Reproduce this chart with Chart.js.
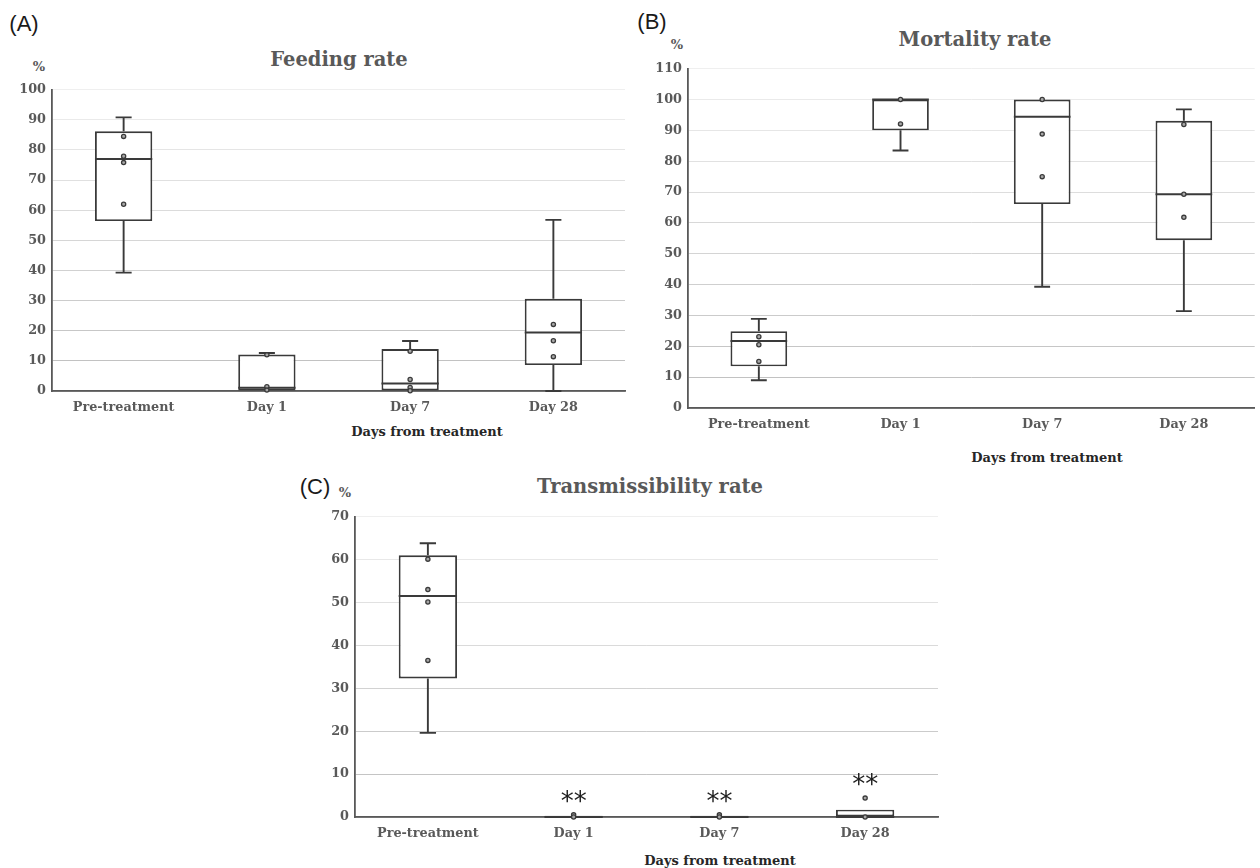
<!DOCTYPE html>
<html><head><meta charset="utf-8">
<script src="https://cdn.jsdelivr.net/npm/chart.js@4.4.1/dist/chart.umd.min.js"></script>
<style>
html,body{margin:0;padding:0;background:#fff;}
#wrap{position:relative;width:1260px;height:868px;overflow:hidden;background:#fff;}
canvas{position:absolute;}
.t{position:absolute;transform:translate(-50%,-50%);white-space:nowrap;line-height:1;}
.serif{font-family:'DejaVu Serif',serif;font-weight:bold;color:#595959;}
.panel{font-family:'Liberation Sans',Arial,sans-serif;font-size:22px;color:#1a1a1a;}
.ttl{font-size:19.5px;}
.pct{font-size:13px;}
.xt{font-size:13px;color:#262626;}
</style></head><body>
<div id="wrap">
  <canvas id="cA" width="635" height="345" style="left:0px;top:76px;width:635px;height:345px"></canvas>
  <canvas id="cB" width="630" height="383" style="left:630px;top:55px;width:630px;height:383px"></canvas>
  <canvas id="cC" width="658" height="344" style="left:290px;top:503px;width:658px;height:344px"></canvas>

  <div class="t panel" style="left:24px;top:24px">(A)</div>
  <div class="t serif ttl" style="left:339px;top:60px">Feeding rate</div>
  <div class="t serif pct" style="left:39px;top:66px">%</div>
  <div class="t serif xt" style="left:427px;top:431px">Days from treatment</div>

  <div class="t panel" style="left:652px;top:22px">(B)</div>
  <div class="t serif ttl" style="left:975px;top:40px">Mortality rate</div>
  <div class="t serif pct" style="left:677px;top:44px">%</div>
  <div class="t serif xt" style="left:1047px;top:457px">Days from treatment</div>

  <div class="t panel" style="left:315px;top:487px">(C)</div>
  <div class="t serif ttl" style="left:650px;top:487px">Transmissibility rate</div>
  <div class="t serif pct" style="left:345px;top:492px">%</div>
  <div class="t serif xt" style="left:720px;top:860px">Days from treatment</div>
</div>
<script>
// ---------- DATA ----------
const categories = ['Pre-treatment', 'Day 1', 'Day 7', 'Day 28'];

// (A) Feeding rate (%)
const feedingMin    = [39.3, 0, 0, 0];
const feedingQ1     = [56.4, 0, 0, 8.6];
const feedingMedian = [77.0, 1.1, 2.5, 19.4];
const feedingQ3     = [86.2, 12.1, 13.9, 30.6];
const feedingMax    = [90.8, 12.6, 16.6, 56.8];
const feedingPoints = [[84.5, 77.9, 75.8, 62.0], [12.0, 1.4, 0.3], [13.2, 3.8, 1.2, 0.1], [22.1, 16.7, 11.4]];
const feedingTicks  = {min: 0, max: 100, step: 10};

// (B) Mortality rate (%)
const mortalityMin    = [9.0, 83.5, 39.3, 31.4];
const mortalityQ1     = [13.5, 90.0, 66.1, 54.4];
const mortalityMedian = [21.7, 100, 94.4, 69.3];
const mortalityQ3     = [24.9, 100, 100, 93.1];
const mortalityMax    = [28.9, 100, 100, 96.8];
const mortalityPoints = [[23.1, 20.5, 15.1], [100, 92.1], [100, 88.8, 75.0], [91.9, 69.3, 61.8]];
const mortalityTicks  = {min: 0, max: 110, step: 10};

// (C) Transmissibility rate (%)
const transMin    = [19.6, 0, 0, 0];
const transQ1     = [32.3, 0, 0, 0];
const transMedian = [51.5, 0, 0, 0];
const transQ3     = [61.0, 0.3, 0.3, 1.7];
const transMax    = [63.8, 0.3, 0.3, 1.7];
const transPoints = [[60.1, 53.0, 50.1, 36.5], [0.5, 0], [0.5, 0], [4.4, 0]];
const transSig    = ['', '**', '**', '**'];
const transTicks  = {min: 0, max: 70, step: 10};

// ---------- DRAWING ----------
const INK = '#3a3a3a';
const LW = 1.9;
const boxSets = {};

const boxPlugin = {
  id: 'boxParts',
  afterDatasetDraw(chart, args) {
    if (args.index !== 0) return;
    const s = boxSets[chart.canvas.id];
    if (!s) return;
    const y = chart.scales.y;
    const ctx = chart.ctx;
    const meta = chart.getDatasetMeta(0);
    ctx.save();
    ctx.strokeStyle = INK;
    ctx.lineWidth = LW;
    meta.data.forEach((bar, i) => {
      const half = bar.width / 2;
      const cap = bar.width * 0.14;
      const x = bar.x;
      ctx.beginPath();
      const ym = y.getPixelForValue(s.median[i]);
      ctx.moveTo(x - half, ym); ctx.lineTo(x + half, ym);
      if (s.max[i] > s.q3[i]) {
        const a = y.getPixelForValue(s.q3[i]), b = y.getPixelForValue(s.max[i]);
        ctx.moveTo(x, a); ctx.lineTo(x, b);
        ctx.moveTo(x - cap, b); ctx.lineTo(x + cap, b);
      }
      if (s.min[i] < s.q1[i]) {
        const a = y.getPixelForValue(s.q1[i]), b = y.getPixelForValue(s.min[i]);
        ctx.moveTo(x, a); ctx.lineTo(x, b);
        ctx.moveTo(x - cap, b); ctx.lineTo(x + cap, b);
      }
      ctx.stroke();
    });
    ctx.restore();
  },
  afterDatasetsDraw(chart) {
    const s = boxSets[chart.canvas.id];
    if (!s || !s.sig) return;
    const y = chart.scales.y;
    const ctx = chart.ctx;
    const meta = chart.getDatasetMeta(0);
    ctx.save();
    ctx.fillStyle = '#1e1e1e';
    ctx.font = '26px "DejaVu Sans", sans-serif';
    ctx.textAlign = 'center';
    ctx.textBaseline = 'middle';
    meta.data.forEach((bar, i) => {
      if (!s.sig[i]) return;
      const top = Math.max(s.max[i], ...s.points[i]);
      ctx.fillText(s.sig[i], bar.x, y.getPixelForValue(top) - 12);
    });
    ctx.restore();
  }
};

function makeBoxChart(id, set, ticks, yAxisWidth, padRight) {
  boxSets[id] = set;
  const pts = [];
  set.points.forEach((arr, i) => arr.forEach(v => pts.push({x: categories[i], y: v})));
  return new Chart(document.getElementById(id), {
    type: 'bar',
    data: {
      labels: categories,
      datasets: [
        {
          type: 'bar',
          order: 2,
          data: categories.map((_, i) => [set.q1[i], set.q3[i]]),
          backgroundColor: '#ffffff',
          borderColor: INK,
          borderWidth: LW,
          borderSkipped: false,
          barPercentage: 0.4,
          categoryPercentage: 1.0
        },
        {
          type: 'scatter',
          order: 1,
          data: pts,
          pointRadius: 2.1,
          pointBorderWidth: 1.3,
          pointBorderColor: '#3a3a3a',
          pointBackgroundColor: '#a8a8a8',
          clip: false
        }
      ]
    },
    options: {
      responsive: false,
      animation: false,
      events: [],
      layout: {padding: {top: 10, right: padRight, left: 0, bottom: 0}},
      plugins: {legend: {display: false}, tooltip: {enabled: false}},
      scales: {
        x: {
          type: 'category',
          offset: true,
          grid: {display: false, drawTicks: false},
          border: {display: true, color: '#595959', width: 1.8},
          ticks: {
            padding: 9,
            color: '#595959',
            font: {family: "'DejaVu Serif', serif", weight: 'bold', size: 12.8}
          },
          afterFit(scale) { scale.height = 30; }
        },
        y: {
          min: ticks.min, max: ticks.max,
          grid: {
            drawTicks: false,
            lineWidth: 1,
            color: (c) => {
              const f = c.tick ? (c.tick.value - ticks.min) / (ticks.max - ticks.min) : 0;
              const v = Math.round(0xbd + (0xef - 0xbd) * f);
              return `rgb(${v},${v},${v})`;
            }
          },
          border: {display: true, color: '#595959', width: 1.8},
          ticks: {
            stepSize: ticks.step,
            padding: 6,
            color: '#595959',
            font: {family: "'DejaVu Serif', serif", weight: 'bold', size: 12.8}
          },
          afterFit(scale) { scale.width = yAxisWidth; }
        }
      }
    },
    plugins: [boxPlugin]
  });
}

makeBoxChart('cA', {min: feedingMin, q1: feedingQ1, median: feedingMedian, q3: feedingQ3, max: feedingMax, points: feedingPoints}, feedingTicks, 52, 10);
makeBoxChart('cB', {min: mortalityMin, q1: mortalityQ1, median: mortalityMedian, q3: mortalityQ3, max: mortalityMax, points: mortalityPoints}, mortalityTicks, 58, 0);
makeBoxChart('cC', {min: transMin, q1: transQ1, median: transMedian, q3: transQ3, max: transMax, points: transPoints, sig: transSig}, transTicks, 65, 10);
</script>
</body></html>
